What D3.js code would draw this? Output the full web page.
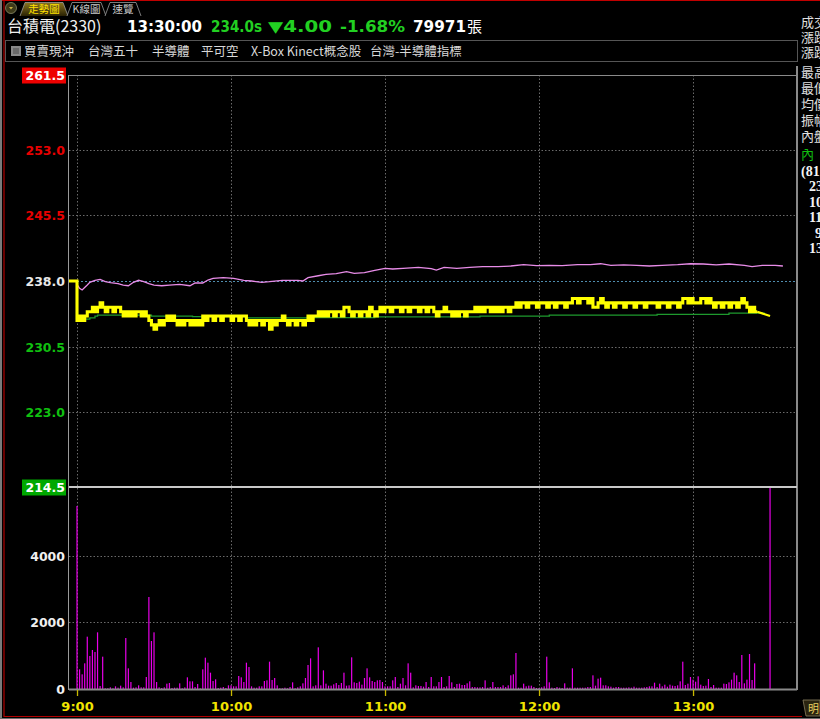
<!DOCTYPE html>
<html><head><meta charset="utf-8">
<script src="https://cdn.jsdelivr.net/npm/d3@7"></script>
<style>html,body{margin:0;padding:0;background:#000;overflow:hidden}</style>
</head><body>
<svg id="c" width="820" height="719" xmlns="http://www.w3.org/2000/svg"></svg>
<script>
// ---------------- DATA ----------------
const stockName = "台積電(2330)";
const quoteTime = "13:30:00";
const lastPrice = "234.0s";
const change = "▼4.00";
const changePct = "-1.68%";
const totalVol = "79971";
const volUnit = "張";
const tabs = ["走勢圖", "K線圖", "速覽"];
const tags = ["買賣現沖", "台灣五十", "半導體", "平可空", "X-Box Kinect概念股", "台灣-半導體指標"];
const sideLabels = ["成交", "漲跌", "漲跌", "最高", "最低", "均價", "振幅", "內盤"];
const sideValues = ["(81", "23", "10", "11", "9", "13"];
const prevClose = 238.0;
const priceTicks = [261.5, 253.0, 245.5, 238.0, 230.5, 223.0, 214.5];
const volumeTicks = [4000, 2000, 0];
const hourTicks = ["9:00", "10:00", "11:00", "12:00", "13:00"];
// last trade price for each minute after 9:00 (minute 0 .. 265)
const price = [
 233.5,234,233.5,234,234.5,234.5,235,234.5,235,235.5,
 235,234.5,235,235,234.5,235,235,234.5,234,234.5,
 234,234.5,234,234.5,234.5,234,234.5,234,233.5,233,
 232.5,233,233.5,233,233.5,234,233.5,234,233.5,233,
 233.5,233,233.5,233.5,233,233.5,233,233.5,233,234,
 233.5,234,234,233.5,234,234,233.5,234,234,234,
 233.5,234,234,233.5,234,234,233.5,233,233.5,233,
 233.5,233.5,233,233.5,233.5,232.5,233.5,233,233.5,233.5,
 234,233.5,233,233.5,233.5,233,233.5,233.5,233,233.5,
 234,233.5,234,234,234.5,234,234.5,234,234.5,234.5,
 234,234.5,234.5,234,235,235,234.5,234,234.5,234.5,
 234,234.5,234.5,234,235,234.5,234,234.5,235,234.5,
 235,235,234.5,235,235,235,234.5,235,235,234.5,
 235,235,235,234.5,235,235,234.5,235,235,234.5,
 234,234.5,234.5,235,234.5,234.5,234,234.5,234,234.5,
 234.5,234,234.5,234.5,234.5,235,234.5,235,234.5,235,
 235,234.5,235,234.5,235,234.5,235,235,234.5,235,
 235,235.5,235,235.5,235.5,235,235.5,235.5,235.5,235,
 235.5,235.5,235.5,235,235.5,235.5,235,235.5,235.5,235.5,
 235,235.5,235.5,236,236,235.5,236,236,236,235.5,
 236,235,235,235.5,236,235.5,235,235.5,235.5,235,
 235.5,235.5,235.5,235,235.5,235.5,235.5,235,235.5,235.5,
 235.5,235,235.5,235.5,235.5,235.5,235,235.5,235.5,235.5,
 235,235.5,235.5,235.5,235,235.5,236,236,235.5,236,
 235.5,235.5,235.5,236,236,235.5,236,235.5,235,235.5,
 235.5,235,235.5,235.5,235,235.5,235.5,235,235.5,236,
 235.5,235,234.5,235,234.5,234.5
];
const closeMinute = 270;
const closePrice = 234.0;
// average price line: [minute, value]
const avgPrice = [[0,233.55],[3,233.65],[5,233.8],[7,234.0],[8,234.1],[29,234.0],[45,233.93],[66,233.8],[91,233.83],[116,233.9],[157,234.0],[184,234.1],[226,234.2],[254,234.33],[268,234.33]];
// reference index line (pink), in price units: [minute, value]
const indexLine = [[0,237.62],[1,237.17],[2,236.97],[4,237.54],[5,237.85],[7,238.08],[9,238.19],[11,237.92],[13,237.81],[16,237.69],[18,237.54],[20,237.46],[22,237.85],[24,238.08],[26,237.92],[28,237.69],[30,237.54],[33,237.46],[36,237.54],[40,237.62],[44,237.46],[46,237.77],[49,237.77],[51,238.11],[53,238.31],[57,238.38],[61,238.31],[65,238.08],[68,238.0],[72,237.85],[75,237.92],[80,238.08],[86,238.08],[88,238.0],[90,238.38],[94,238.6],[97,238.76],[101,238.83],[105,239.06],[108,238.88],[112,238.95],[116,239.22],[120,239.45],[123,239.37],[127,239.45],[133,239.56],[138,239.4],[140,239.25],[143,239.56],[148,239.45],[153,239.56],[158,239.63],[164,239.63],[169,239.71],[174,239.86],[179,239.75],[184,239.79],[189,239.75],[195,239.86],[200,239.86],[204,239.97],[208,239.79],[213,239.83],[218,239.79],[223,239.71],[228,239.79],[234,239.86],[239,239.97],[244,239.94],[249,239.83],[254,239.94],[260,239.79],[263,239.63],[267,239.79],[272,239.79],[275,239.71]];
// volume per minute (minute 0 .. 270)
const volume = [
 5490,590,440,770,1570,990,1170,1110,1700,90,
 970,20,20,50,20,80,40,100,50,1530,
 620,210,40,50,110,50,50,360,2760,1440,
 1700,210,50,30,50,160,180,30,40,40,
 170,20,50,350,230,230,60,150,20,590,
 940,790,490,240,290,30,40,60,30,110,
 110,80,80,390,350,210,790,660,80,40,
 40,80,80,240,260,820,270,330,110,20,
 20,40,20,60,200,20,50,80,170,330,
 720,920,80,110,1250,110,560,160,100,100,
 140,180,120,180,490,100,110,950,200,180,
 220,130,330,620,350,240,210,260,270,210,
 80,80,80,260,360,60,160,330,110,770,
 490,50,110,90,90,70,210,60,360,80,
 80,210,360,60,80,390,200,60,150,160,
 120,120,170,230,60,60,50,50,60,260,
 40,60,210,60,60,60,110,60,110,410,
 440,1080,40,40,160,80,100,100,60,30,
 30,50,80,970,200,40,30,60,40,30,
 170,40,40,620,40,40,40,40,40,60,
 60,410,100,310,340,110,110,80,70,40,
 60,60,40,40,40,50,40,70,40,40,
 40,50,60,80,80,190,60,160,80,130,
 70,130,100,90,110,230,820,120,160,360,
 280,220,380,130,90,100,300,60,120,40,
 40,40,160,150,200,280,490,410,210,1020,
 170,280,1050,270,770,0,0,0,0,0,
 6050
];

// ---------------- CHART ----------------
const svg = d3.select("#c");
const t0 = new Date(2013, 0, 2, 9, 0, 0);
const T = m => new Date(t0.getTime() + m * 60000);
const parseHM = s => { const [h, mm] = s.split(":").map(Number); return T(h * 60 + mm - 540); };

const X0 = 69, X1 = 797;
const x = d3.scaleTime().domain([T(-3.12), T(280.5)]).range([X0, X1]);
const yP = d3.scaleLinear().domain([214.5, 261.5]).range([487, 75]);
const yV = d3.scaleLinear().domain([0, 6060]).range([689, 487]);

const CJK = "'Noto Sans CJK TC','Noto Sans CJK SC',sans-serif";
const NUM = "'DejaVu Sans',Verdana,sans-serif";

svg.append("rect").attr("width", 820).attr("height", 719).attr("fill", "#000");

// window borders
svg.append("line").attr("x1", 0).attr("x2", 820).attr("y1", 0.5).attr("y2", 0.5).attr("stroke", "#c00000").attr("stroke-width", 1);
svg.append("line").attr("x1", 1).attr("x2", 1).attr("y1", 0).attr("y2", 719).attr("stroke", "#7a7a7a").attr("stroke-width", 2);
svg.append("line").attr("x1", 4).attr("x2", 4).attr("y1", 0).attr("y2", 717).attr("stroke", "#b00000").attr("stroke-width", 1.2);
svg.append("line").attr("x1", 4).attr("x2", 802).attr("y1", 716.5).attr("y2", 716.5).attr("stroke", "#b00000").attr("stroke-width", 1.2);
svg.append("line").attr("x1", 0).attr("x2", 820).attr("y1", 718.5).attr("y2", 718.5).attr("stroke", "#6a6a6a").attr("stroke-width", 1);

// tabs row
const tabG = svg.append("g");
tabG.append("circle").attr("cx", 11).attr("cy", 8).attr("r", 5.5).attr("fill", "#3d3a1a").attr("stroke", "#8a8a6a").attr("stroke-width", 0.8);
tabG.append("path").attr("d", "M9,7 L13,7 L11,9.5 Z").attr("fill", "#c8b040");
const grad = svg.append("defs").append("linearGradient").attr("id", "tabg").attr("x1", 0).attr("x2", 0).attr("y1", 0).attr("y2", 1);
grad.append("stop").attr("offset", "0%").attr("stop-color", "#8a7420");
grad.append("stop").attr("offset", "100%").attr("stop-color", "#2a2204");
const tabPos = [[20, 68], [67, 106], [105, 141]];
tabs.forEach((t, i) => {
  const [a, b] = tabPos[i];
  tabG.append("path").attr("d", `M${a},16 L${a + 5},2.5 L${b - 5},2.5 L${b},16`)
    .attr("fill", i === 0 ? "url(#tabg)" : "#000").attr("stroke", "#9a9a9a").attr("stroke-width", 0.8);
  tabG.append("text").attr("x", (a + b) / 2).attr("y", 13).attr("text-anchor", "middle")
    .attr("font-family", CJK).attr("font-size", 10.5).attr("fill", i === 0 ? "#ffe000" : "#c8c8c8").text(t);
});

// header quote row
const hdr = svg.append("g");
hdr.append("text").attr("x", 7).attr("y", 32).attr("font-family", CJK).attr("font-size", 16).attr("fill", "#f0f0f0").text(stockName);
const hq = [[127, 75, quoteTime, "#ffffff"], [211, 51, lastPrice, "#22d022"], [268, 64, change, "#22d022"], [340, 65, changePct, "#22d022"], [413, 53, totalVol, "#ffffff"]];
hq.forEach(([xx, w, s, c]) => hdr.append("text").attr("x", xx).attr("y", 32).attr("font-family", NUM).attr("font-weight", "bold")
  .attr("font-size", 15).attr("fill", c).attr("textLength", w).attr("lengthAdjust", "spacingAndGlyphs").text(s));
hdr.append("text").attr("x", 467).attr("y", 32).attr("font-family", CJK).attr("font-size", 15).attr("fill", "#ffffff").text(volUnit);

// tag box
svg.append("rect").attr("x", 5.5).attr("y", 40.5).attr("width", 792).attr("height", 21).attr("fill", "none").attr("stroke", "#555").attr("stroke-width", 1);
svg.append("rect").attr("x", 11).attr("y", 46).attr("width", 10).attr("height", 10).attr("fill", "#8a8a8a");
svg.append("rect").attr("x", 13).attr("y", 48).attr("width", 6).attr("height", 6).attr("fill", "#6a6a6a");
const tagX = [24, 88, 152, 201, 251, 370];
tags.forEach((t, i) => svg.append("text").attr("x", tagX[i]).attr("y", 56).attr("font-family", CJK).attr("font-size", 12.5).attr("fill", "#d8d8d8").text(t));

// side panel (cut off at the right edge, as in the source)
const sideY = [27, 42, 57, 77, 93, 109, 125, 141];
sideLabels.forEach((t, i) => svg.append("text").attr("x", 801).attr("y", sideY[i]).attr("font-family", CJK).attr("font-size", 13).attr("fill", "#e0e0e0").text(t));
svg.append("text").attr("x", 801).attr("y", 159).attr("font-family", CJK).attr("font-size", 13).attr("fill", "#10c010").text("內");
const sideVX = [801, 809, 809, 809, 815, 809];
const sideVY = [176, 191, 207, 222, 238, 253];
sideValues.forEach((t, i) => svg.append("text").attr("x", sideVX[i]).attr("y", sideVY[i]).attr("font-family", "'Liberation Serif',serif").attr("font-weight", "bold").attr("font-size", 14).attr("fill", "#f4f4f4").text(t));

// bottom right tab
svg.append("path").attr("d", "M803,700 L820,700 L820,716 L806,716 Z").attr("fill", "#2a2410").attr("stroke", "#8a8060").attr("stroke-width", 0.8);
svg.append("text").attr("x", 808).attr("y", 713).attr("font-family", CJK).attr("font-size", 11).attr("fill", "#e8d060").text("明");

// ---------- grids ----------
const grid = svg.append("g");
priceTicks.filter(v => v !== 261.5 && v !== 214.5 && v !== prevClose).forEach(v =>
  grid.append("line").attr("x1", X0).attr("x2", X1).attr("y1", Math.round(yP(v)) + 0.5).attr("y2", Math.round(yP(v)) + 0.5)
    .attr("stroke", "#6a6a6a").attr("stroke-dasharray", "1.5,2"));
volumeTicks.filter(v => v > 0).forEach(v =>
  grid.append("line").attr("x1", X0).attr("x2", X1).attr("y1", Math.round(yV(v)) + 0.5).attr("y2", Math.round(yV(v)) + 0.5)
    .attr("stroke", "#6a6a6a").attr("stroke-dasharray", "1.5,2"));
hourTicks.forEach(h => {
  const xx = Math.round(x(parseHM(h))) + 0.5;
  grid.append("line").attr("x1", xx).attr("x2", xx).attr("y1", 75).attr("y2", 689).attr("stroke", "#6a6a6a").attr("stroke-dasharray", "1.5,2");
});
// previous close reference
grid.append("line").attr("x1", X0).attr("x2", X1).attr("y1", Math.round(yP(prevClose)) + 0.5).attr("y2", Math.round(yP(prevClose)) + 0.5)
  .attr("stroke", "#4f8cae").attr("stroke-dasharray", "2,2");

// ---------- volume bars ----------
const volData = volume.map((v, m) => ({ m, v })).filter(d => d.v > 0);
svg.append("g").selectAll("rect").data(volData).join("rect")
  .attr("x", d => x(T(d.m)) - 0.6).attr("width", 1.2)
  .attr("y", d => yV(d.v)).attr("height", d => yV(0) - yV(d.v))
  .attr("fill", "#e800e8");

// ---------- price lines ----------
const pinkLine = d3.line().x(d => x(T(d[0]))).y(d => yP(d[1]));
svg.append("path").datum(indexLine).attr("d", pinkLine).attr("fill", "none").attr("stroke", "#e88ce8").attr("stroke-width", 1.3);

const avgLine = d3.line().x(d => x(T(d[0]))).y(d => yP(d[1])).curve(d3.curveStepAfter);
svg.append("path").datum(avgPrice).attr("d", avgLine).attr("fill", "none").attr("stroke", "#1e9a2e").attr("stroke-width", 1.3);

const pData = [[-3.12, prevClose]].concat(price.map((p, m) => [m, p]));
const pLine = d3.line().x(d => x(T(d[0]))).y(d => yP(d[1])).curve(d3.curveStepAfter);
svg.append("path").datum(pData).attr("d", pLine).attr("fill", "none").attr("stroke", "#ffff00").attr("stroke-width", 3.1);
const lastM = price.length - 1;
svg.append("path").datum([[lastM, price[lastM]], [closeMinute, closePrice]]).attr("d", d3.line().x(d => x(T(d[0]))).y(d => yP(d[1])))
  .attr("fill", "none").attr("stroke", "#ffff00").attr("stroke-width", 2.2);

// ---------- frame ----------
const fr = svg.append("g");
fr.append("line").attr("x1", X0).attr("x2", X1).attr("y1", 75.5).attr("y2", 75.5).attr("stroke", "#8a8a8a");
fr.append("line").attr("x1", X0 - 0.5).attr("x2", X0 - 0.5).attr("y1", 75).attr("y2", 690).attr("stroke", "#9a9a9a");
fr.append("line").attr("x1", X1).attr("x2", X1).attr("y1", 66).attr("y2", 690).attr("stroke", "#8a8a8a").attr("stroke-width", 2);
fr.append("line").attr("x1", X0).attr("x2", X1).attr("y1", 487).attr("y2", 487).attr("stroke", "#c8c8c8").attr("stroke-width", 2);
fr.append("line").attr("x1", X0).attr("x2", X1).attr("y1", 689.5).attr("y2", 689.5).attr("stroke", "#8a8a8a").attr("stroke-width", 2);

// ---------- axes ----------
const pAxis = d3.axisLeft(yP).tickValues(priceTicks).tickSize(0).tickPadding(4).tickFormat(d3.format(".1f"));
const gp = svg.append("g").attr("transform", `translate(${X0},0)`).call(pAxis);
gp.select(".domain").remove();
gp.selectAll(".tick").each(function (v) {
  const g = d3.select(this);
  const txt = g.select("text");
  txt.attr("font-family", NUM).attr("font-weight", "bold").attr("font-size", 12.5).attr("dy", "0.36em")
    .attr("fill", v === 261.5 || v === 214.5 ? "#ffffff" : v > prevClose ? "#e80000" : v < prevClose ? "#10c010" : "#e8e8e8");
  if (v === 261.5 || v === 214.5) {
    g.insert("rect", "text").attr("x", -47).attr("y", -8).attr("width", 44).attr("height", 16).attr("fill", v === 261.5 ? "#ee0000" : "#00a800");
  }
});
const vAxis = d3.axisLeft(yV).tickValues(volumeTicks).tickSize(0).tickPadding(4).tickFormat(d3.format("d"));
const gv = svg.append("g").attr("transform", `translate(${X0},0)`).call(vAxis);
gv.select(".domain").remove();
gv.selectAll("text").attr("font-family", NUM).attr("font-weight", "bold").attr("font-size", 12.5).attr("fill", "#f0f0f0").attr("dy", "0.36em");

const xAxis = d3.axisBottom(x).tickValues(hourTicks.map(parseHM)).tickSize(6).tickPadding(6).tickFormat(d3.timeFormat("%-H:%M"));
const gx = svg.append("g").attr("transform", "translate(0,690)").call(xAxis);
gx.select(".domain").remove();
gx.selectAll("line").attr("stroke", "#c8b800").attr("stroke-width", 1.3);
gx.selectAll("text").attr("font-family", NUM).attr("font-weight", "bold").attr("font-size", 13).attr("fill", "#f0e400");
</script>
</body></html>
